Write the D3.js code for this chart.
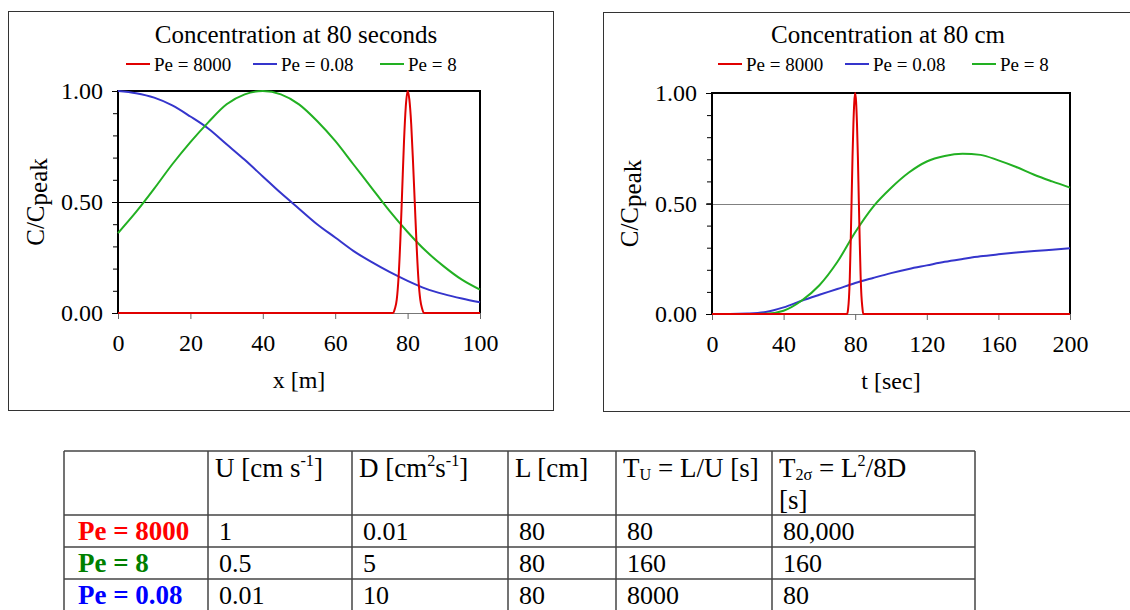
<!DOCTYPE html>
<html>
<head>
<meta charset="utf-8">
<script src="https://cdn.jsdelivr.net/npm/d3@7"></script>
<style>
  body { margin: 0; background: #fff; }
  svg { display: block; font-family: "Liberation Serif", "Times New Roman", serif; }
</style>
</head>
<body>
<div id="chart"></div>
<script>
// ---- data ----
const seriesNames = ["Pe = 8000", "Pe = 0.08", "Pe = 8"];

// concentration vs distance at 80 s
const xSpace = [0, 5, 10, 15, 20, 25, 30, 35, 40, 45, 50, 55, 60, 65, 70, 75, 80, 85, 90, 95, 100];
const blueSpace = [1.00, 0.99, 0.97, 0.935, 0.885, 0.83, 0.76, 0.69, 0.615, 0.54, 0.47, 0.40, 0.34, 0.28, 0.23, 0.185, 0.145, 0.11, 0.085, 0.065, 0.048];
const greenSpace = [0.36, 0.455, 0.56, 0.67, 0.77, 0.86, 0.94, 0.985, 1.0, 0.985, 0.94, 0.865, 0.775, 0.67, 0.565, 0.46, 0.365, 0.28, 0.21, 0.15, 0.105];
const redSpaceX = [0, 76, 76.5, 77, 77.5, 78, 78.5, 79, 79.5, 80, 80.5, 81, 81.5, 82, 82.5, 83, 83.5, 84, 84.5, 100];
const redSpaceY = [0, 0, 0.02, 0.06, 0.16, 0.33, 0.55, 0.77, 0.93, 1.0, 0.96, 0.85, 0.68, 0.49, 0.30, 0.15, 0.06, 0.02, 0, 0];

// concentration vs time at 80 cm
const tTime = [0, 10, 20, 30, 40, 50, 60, 70, 80, 90, 100, 110, 120, 130, 140, 150, 160, 170, 180, 190, 200];
const blueTime = [0, 0, 0.002, 0.009, 0.03, 0.06, 0.087, 0.113, 0.14, 0.163, 0.185, 0.204, 0.22, 0.236, 0.249, 0.261, 0.27, 0.278, 0.285, 0.291, 0.297];
const greenTime = [0, 0, 0, 0.001, 0.015, 0.06, 0.13, 0.235, 0.37, 0.485, 0.57, 0.64, 0.69, 0.715, 0.725, 0.72, 0.695, 0.665, 0.63, 0.60, 0.572];
const redTimeX = [0, 75.5, 76, 76.5, 77, 77.5, 78, 78.5, 79, 79.5, 80, 80.5, 81, 81.5, 82, 82.5, 83, 83.5, 84, 84.5, 200];
const redTimeY = [0, 0, 0.02, 0.07, 0.17, 0.33, 0.52, 0.71, 0.86, 0.96, 1.0, 0.96, 0.86, 0.71, 0.52, 0.34, 0.18, 0.08, 0.03, 0, 0];

const yMajor = [0, 0.5, 1];
const xTicksSpace = [0, 20, 40, 60, 80, 100];
const xTicksTime = [0, 40, 80, 120, 160, 200];

// table
const rowLabels = ["Pe = 8000", "Pe = 8", "Pe = 0.08"];
const colU = ["1", "0.5", "0.01"];
const colD = ["0.01", "5", "10"];
const colL = ["80", "80", "80"];
const colTU = ["80", "160", "8000"];
const colT2s = ["80,000", "160", "80"];

// ---- styles ----
const colors = { "Pe = 8000": "#e00000", "Pe = 0.08": "#3535cc", "Pe = 8": "#22b022" };
const tableColors = { "Pe = 8000": "#ff0000", "Pe = 8": "#008000", "Pe = 0.08": "#0000ff" };

const svg = d3.select("#chart").append("svg")
  .attr("width", 1130)
  .attr("height", 610);

function toPoints(xs, ys) {
  return xs.map((v, i) => [v, ys[i]]);
}

function drawChart(opt) {
  const g = svg.append("g");

  g.append("rect")
    .attr("x", opt.box[0] + 0.5).attr("y", opt.box[1] + 0.5)
    .attr("width", opt.box[2]).attr("height", opt.box[3])
    .attr("fill", "none").attr("stroke", "#333").attr("stroke-width", 1);

  const x = d3.scaleLinear().domain(opt.xDomain).range([opt.left, opt.right]);
  const y = d3.scaleLinear().domain([0, 1]).range([opt.bottom, opt.top]);
  const cx = (opt.left + opt.right) / 2;

  // title
  g.append("text")
    .attr("x", cx - 3).attr("y", 43)
    .attr("text-anchor", "middle")
    .attr("font-size", 25)
    .text(opt.title);

  // legend
  const leg = g.append("g").attr("transform", `translate(${cx - 173},64)`);
  seriesNames.forEach((name, i) => {
    const it = leg.append("g").attr("transform", `translate(${i * 127},0)`);
    it.append("line").attr("x1", 0).attr("x2", 24).attr("y1", 0).attr("y2", 0)
      .attr("stroke", colors[name]).attr("stroke-width", 2);
    it.append("text").attr("x", 28).attr("y", 7).attr("font-size", 19).text(name);
  });

  // gridline at 0.5
  const gy = Math.round(y(0.5)) + 0.5;
  g.append("line")
    .attr("x1", opt.left - 6).attr("x2", opt.right)
    .attr("y1", gy).attr("y2", gy)
    .attr("stroke", opt.gridColor).attr("stroke-width", 1);

  // minor y ticks
  g.append("g")
    .attr("transform", `translate(${opt.left},0)`)
    .call(d3.axisLeft(y).tickValues(d3.range(0, 1.001, 0.1)).tickSize(5).tickFormat(""))
    .call(a => a.select(".domain").remove())
    .call(a => a.selectAll("line").attr("stroke", "#000"));

  // major y ticks
  g.append("g")
    .attr("transform", `translate(${opt.left},0)`)
    .call(d3.axisLeft(y).tickValues(yMajor).tickSize(6).tickPadding(9).tickFormat(d3.format(".2f")))
    .attr("font-family", null).attr("font-size", 24)
    .call(a => a.select(".domain").remove())
    .call(a => a.selectAll("line").attr("stroke", "#000"))
    .call(a => a.selectAll("text").attr("fill", "#000"));

  // x ticks
  g.append("g")
    .attr("transform", `translate(0,${opt.bottom})`)
    .call(d3.axisBottom(x).tickValues(opt.xTicks).tickSize(6).tickPadding(15))
    .attr("font-family", null).attr("font-size", 24)
    .call(a => a.select(".domain").attr("stroke", "#777"))
    .call(a => a.selectAll("line").attr("stroke", "#666"))
    .call(a => a.selectAll("text").attr("fill", "#000"));

  // frame: left, top, right
  g.append("path")
    .attr("d", `M${opt.left},${opt.bottom}V${opt.top}H${opt.right}V${opt.bottom}`)
    .attr("fill", "none").attr("stroke", "#000").attr("stroke-width", 2);

  // axis titles
  g.append("text")
    .attr("x", cx).attr("y", opt.bottom + 75)
    .attr("text-anchor", "middle").attr("font-size", 24)
    .text(opt.xTitle);

  const yt = g.append("text")
    .attr("transform", `translate(${opt.left - 74},${(opt.top + opt.bottom) / 2}) rotate(-90)`)
    .attr("text-anchor", "middle").attr("font-size", 25);
  yt.append("tspan").text("C/C");
  yt.append("tspan").attr("dy", 3).text("peak");

  // series
  const line = d3.line()
    .x(d => x(d[0])).y(d => y(d[1]))
    .curve(d3.curveMonotoneX);

  opt.series.forEach(s => {
    g.append("path")
      .datum(s.points)
      .attr("fill", "none")
      .attr("stroke", colors[s.name])
      .attr("stroke-width", 2)
      .attr("stroke-linejoin", "round")
      .attr("d", line);
  });
}

drawChart({
  box: [8, 11, 545, 399],
  left: 118, right: 480, top: 91, bottom: 313,
  xDomain: [0, 100], xTicks: xTicksSpace,
  title: "Concentration at 80 seconds",
  xTitle: "x [m]",
  gridColor: "#000",
  series: [
    { name: "Pe = 0.08", points: toPoints(xSpace, blueSpace) },
    { name: "Pe = 8", points: toPoints(xSpace, greenSpace) },
    { name: "Pe = 8000", points: toPoints(redSpaceX, redSpaceY) }
  ]
});

drawChart({
  box: [603, 12, 540, 399],
  left: 712, right: 1070, top: 93, bottom: 314,
  xDomain: [0, 200], xTicks: xTicksTime,
  title: "Concentration at 80 cm",
  xTitle: "t [sec]",
  gridColor: "#808080",
  series: [
    { name: "Pe = 0.08", points: toPoints(tTime, blueTime) },
    { name: "Pe = 8", points: toPoints(tTime, greenTime) },
    { name: "Pe = 8000", points: toPoints(redTimeX, redTimeY) }
  ]
});

// ---- table ----
const colX = [64, 208, 352, 508, 616, 772, 975];
const rowY = [451, 515, 547, 579, 611];
const tbl = svg.append("g").attr("font-size", 26);

colX.forEach(cx => {
  tbl.append("line").attr("x1", cx).attr("x2", cx).attr("y1", rowY[0]).attr("y2", rowY[rowY.length - 1])
    .attr("stroke", "#444").attr("stroke-width", 1.5);
});
rowY.forEach(ry => {
  tbl.append("line").attr("x1", colX[0]).attr("x2", colX[colX.length - 1]).attr("y1", ry).attr("y2", ry)
    .attr("stroke", "#444").attr("stroke-width", 1.5);
});

// header cells as rich text segments
const headers = [
  [{ t: "U [cm s" }, { t: "-1", sup: true }, { t: "]" }],
  [{ t: "D [cm" }, { t: "2", sup: true }, { t: "s" }, { t: "-1", sup: true }, { t: "]" }],
  [{ t: "L [cm]" }],
  [{ t: "T" }, { t: "U", sub: true }, { t: " = L/U [s]" }],
  [{ t: "T" }, { t: "2σ", sub: true }, { t: " = L" }, { t: "2", sup: true }, { t: "/8D" }]
];

function richText(sel, segs, fs) {
  let shift = 0;
  segs.forEach(s => {
    const target = s.sup ? -0.4 * fs : s.sub ? 0.12 * fs : 0;
    sel.append("tspan")
      .attr("dy", target - shift)
      .attr("font-size", (s.sup || s.sub) ? fs * 0.6 : fs)
      .text(s.t);
    shift = target;
  });
}

const pad = 11;
headers.forEach((segs, i) => {
  const t = tbl.append("text").attr("x", colX[i + 1] + pad - 4).attr("y", 477);
  richText(t, segs, 27);
});
tbl.append("text").attr("x", colX[5] + pad - 4).attr("y", 509).attr("font-size", 27).text("[s]");

const cols = [colU, colD, colL, colTU, colT2s];
rowLabels.forEach((lab, r) => {
  const by = rowY[r + 1] + 25;
  tbl.append("text").attr("x", colX[0] + 14).attr("y", by)
    .attr("font-size", 27)
    .attr("font-weight", "bold").attr("fill", tableColors[lab]).text(lab);
  cols.forEach((c, j) => {
    tbl.append("text").attr("x", colX[j + 1] + pad).attr("y", by).text(c[r]);
  });
});
</script>
</body>
</html>
